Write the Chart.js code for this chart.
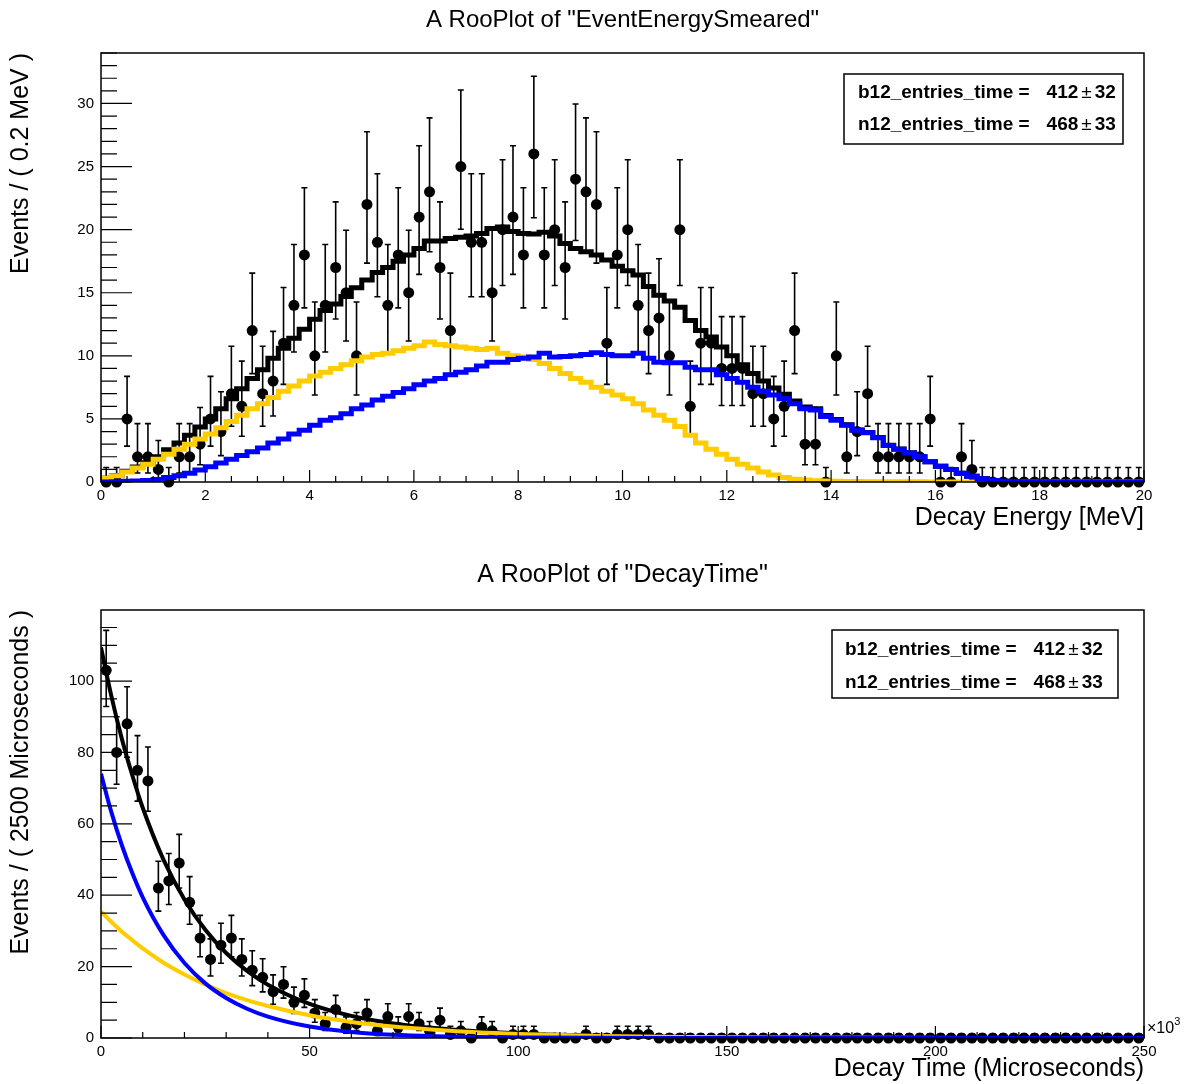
<!DOCTYPE html>
<html>
<head>
<meta charset="utf-8">
<script src="https://cdn.jsdelivr.net/npm/chart.js@4.4.1/dist/chart.umd.min.js"></script>
<style>
  body { margin: 0; background: #fff; }
  .pad { position: relative; width: 1192px; height: 542px; }
</style>
</head>
<body>
<div class="pad"><canvas id="energy" width="1192" height="542"></canvas></div>
<div class="pad"><canvas id="time" width="1192" height="542"></canvas></div>
<script>
// energy plot: 100 bins of 0.2 MeV, 0..20 MeV
const energyBinWidth = 0.2;
const energyCounts = [
  0, 0, 5, 2, 2, 1, 0, 2, 2, 3,
  5, 4, 7, 6, 12, 7, 8, 11, 14, 18,
  10, 14, 17, 15, 10, 22, 19, 14, 18, 15,
  21, 23, 17, 12, 25, 19, 19, 15, 20, 21,
  18, 26, 18, 20, 17, 24, 23, 22, 11, 18,
  20, 14, 12, 13, 10, 20, 6, 11, 11, 9,
  9, 9, 7, 7, 5, 6, 12, 3, 3, 0,
  10, 2, 4, 7, 2, 2, 2, 2, 2, 5,
  0, 0, 2, 1, 0, 0, 0, 0, 0, 0,
  0, 0, 0, 0, 0, 0, 0, 0, 0, 0
];
const energyTotal = [
  0.3, 0.52, 0.85, 1.18, 1.52, 2.0, 2.55, 3.1, 3.7, 4.35,
  5.0, 5.8, 6.6, 7.4, 8.2, 8.9, 9.8, 10.6, 11.4, 12.1,
  12.9, 13.6, 14.1, 14.7, 15.4, 16.0, 16.6, 17.0, 17.5, 18.0,
  18.5, 19.1, 19.1, 19.3, 19.4, 19.5, 19.7, 20.1, 20.2, 19.85,
  19.7, 19.65, 19.8, 19.5, 18.9, 18.5, 18.25, 18.0, 17.6, 17.1,
  16.75, 16.4, 15.5, 14.8, 14.35, 13.85, 12.8, 12.0, 11.5, 10.7,
  10.0, 9.3, 8.6, 8.0, 7.45, 6.95, 6.42, 5.95, 5.8, 5.27,
  4.95, 4.54, 4.13, 3.92, 3.52, 2.91, 2.61, 2.31, 2.01, 1.6,
  1.25, 1.0, 0.7, 0.45, 0.25, 0.12, 0.06, 0.03, 0.02, 0.01,
  0.01, 0, 0, 0, 0, 0, 0, 0, 0, 0
];
const energyB12 = [
  0.3, 0.5, 0.8, 1.1, 1.4, 1.8, 2.2, 2.6, 3.0, 3.4,
  3.8, 4.3, 4.8, 5.3, 5.8, 6.2, 6.7, 7.2, 7.6, 8.0,
  8.4, 8.7, 9.0, 9.3, 9.6, 9.9, 10.1, 10.2, 10.4, 10.6,
  10.8, 11.1, 10.9, 10.8, 10.7, 10.6, 10.5, 10.6, 10.2, 10.0,
  9.9, 9.7, 9.4, 9.0, 8.6, 8.2, 7.9, 7.5, 7.2, 6.9,
  6.6, 6.2, 5.7, 5.3, 4.9, 4.4, 3.7, 3.1, 2.6, 2.2,
  1.8, 1.4, 1.1, 0.8, 0.55, 0.35, 0.22, 0.15, 0.1, 0.07,
  0.05, 0.04, 0.03, 0.02, 0.02, 0.01, 0.01, 0.01, 0.01, 0,
  0, 0, 0, 0, 0, 0, 0, 0, 0, 0,
  0, 0, 0, 0, 0, 0, 0, 0, 0, 0
];
const energyN12 = [
  0, 0.02, 0.05, 0.08, 0.12, 0.2, 0.35, 0.5, 0.7, 0.95,
  1.2, 1.5, 1.8, 2.1, 2.4, 2.7, 3.1, 3.4, 3.8, 4.1,
  4.5, 4.9, 5.1, 5.4, 5.8, 6.1, 6.5, 6.8, 7.1, 7.4,
  7.7, 8.0, 8.2, 8.5, 8.7, 8.9, 9.2, 9.5, 9.5, 9.7,
  9.8, 9.9, 10.2, 9.9, 9.95, 10.0, 10.1, 10.25, 10.1, 10.0,
  10.0, 10.2, 9.8, 9.5, 9.45, 9.45, 9.1, 8.9, 8.9, 8.5,
  8.2, 7.9, 7.5, 7.2, 6.9, 6.6, 6.2, 5.8, 5.7, 5.2,
  4.9, 4.5, 4.1, 3.9, 3.5, 2.9, 2.6, 2.3, 2.0, 1.6,
  1.25, 1.0, 0.7, 0.45, 0.25, 0.12, 0.06, 0.03, 0.02, 0.01,
  0.01, 0, 0, 0, 0, 0, 0, 0, 0, 0
];
const energyYTicks = [0, 5, 10, 15, 20, 25, 30];

// decay time plot: 100 bins of 2500 us (axis in units of 10^3 us)
const timeBinWidth = 2.5;
const timeCounts = [
  103, 80, 88, 75, 72, 42, 44, 49, 38, 28,
  22, 26, 28, 22, 19, 17, 13, 15, 10, 12,
  7, 4, 8, 3, 4, 7, 2, 6, 3, 6,
  4, 2, 5, 1, 2, 0, 3, 2, 0, 1,
  1, 1, 0, 0, 0, 0, 1, 0, 0, 1,
  1, 1, 1, 0, 0, 0, 0, 0, 0, 0,
  0, 0, 0, 0, 0, 0, 0, 0, 0, 0,
  0, 0, 0, 0, 0, 0, 0, 0, 0, 0,
  0, 0, 0, 0, 0, 0, 0, 0, 0, 0,
  0, 0, 0, 0, 0, 0, 0, 0, 0, 0
];
const timeCurveX = [0, 2.5, 5, 7.5, 10, 15, 20, 25, 30, 35, 40, 50, 60, 70, 80, 90, 100, 120, 140, 160, 190, 220, 250];
const timeTotal = [109.4, 95.7, 83.8, 73.6, 64.5, 49.9, 38.8, 30.3, 23.8, 18.8, 14.95, 9.55, 6.2, 4.1, 2.78, 1.86, 1.28, 0.61, 0.3, 0.15, 0.05, 0.018, 0.006];
const timeB12 = [35.4, 32.5, 29.8, 27.4, 25.1, 21.1, 17.8, 15.0, 12.6, 10.6, 8.95, 6.35, 4.5, 3.2, 2.3, 1.6, 1.14, 0.57, 0.29, 0.145, 0.05, 0.018, 0.006];
const timeN12 = [74.0, 63.2, 54.0, 46.2, 39.4, 28.8, 21.0, 15.3, 11.2, 8.2, 6.0, 3.2, 1.7, 0.9, 0.48, 0.26, 0.14, 0.04, 0.01, 0.003, 0, 0, 0];
const timeYTicks = [0, 20, 40, 60, 80, 100];

// fit results shown in the parameter box
const fitNames = ["b12_entries_time", "n12_entries_time"];
const fitValues = [412, 468];
const fitErrors = [32, 33];

const FONT = "'Liberation Sans', Arial, Helvetica, sans-serif";
Chart.defaults.font.family = FONT;
Chart.defaults.color = '#000';

// central 68% poisson interval (RooHist style)
function poissonInterval(n) {
  if (n === 0) return [0, 1.148];
  const lo = n * Math.pow(1 - 1 / (9 * n) - 1 / (3 * Math.sqrt(n)), 3);
  const m = n + 1;
  const hi = m * Math.pow(1 - 1 / (9 * m) + 1 / (3 * Math.sqrt(m)), 3);
  return [lo, hi];
}

function binPoints(counts, bw) {
  return counts.map((n, i) => ({ x: (i + 0.5) * bw, y: n }));
}
function stepPoints(vals, bw) {
  const pts = vals.map((v, i) => ({ x: i * bw, y: v }));
  pts.push({ x: vals.length * bw, y: vals[vals.length - 1] });
  return pts;
}

const errorBars = {
  id: 'errorBars',
  beforeDatasetsDraw(chart) {
    const { ctx } = chart;
    const y = chart.scales.y;
    chart.data.datasets.forEach((ds, di) => {
      if (!ds.poisson) return;
      const meta = chart.getDatasetMeta(di);
      ctx.save();
      ctx.strokeStyle = '#000';
      ctx.lineWidth = 1.6;
      ctx.beginPath();
      meta.data.forEach((pt, i) => {
        const [lo, hi] = poissonInterval(ds.data[i].y);
        const yl = y.getPixelForValue(lo), yh = y.getPixelForValue(hi);
        ctx.moveTo(pt.x, yl); ctx.lineTo(pt.x, yh);
        ctx.moveTo(pt.x - 3, yh); ctx.lineTo(pt.x + 3, yh);
        ctx.moveTo(pt.x - 3, yl); ctx.lineTo(pt.x + 3, yl);
      });
      ctx.stroke();
      ctx.restore();
    });
  }
};

const rootPad = {
  id: 'rootPad',
  afterDraw(chart, args, o) {
    const { ctx, chartArea: a } = chart;
    const x = chart.scales.x, y = chart.scales.y;
    ctx.save();
    ctx.strokeStyle = '#000';
    ctx.lineWidth = 1.2;
    ctx.beginPath();
    for (let k = 0; k * o.xMinor <= x.max + 1e-9; k++) {
      const v = k * o.xMinor;
      const major = Math.abs(v / o.xMajor - Math.round(v / o.xMajor)) < 1e-6;
      const px = x.getPixelForValue(v);
      ctx.moveTo(px, a.bottom); ctx.lineTo(px, a.bottom - (major ? 12 : 6));
    }
    for (let k = 0; k * o.yMinor <= y.max + 1e-9; k++) {
      const v = k * o.yMinor;
      const major = Math.abs(v / o.yMajor - Math.round(v / o.yMajor)) < 1e-6;
      const py = y.getPixelForValue(v);
      ctx.moveTo(a.left, py); ctx.lineTo(a.left + (major ? 31 : 16), py);
    }
    ctx.stroke();
    ctx.lineWidth = 1.5;
    ctx.strokeRect(a.left, a.top, a.right - a.left, a.bottom - a.top);

    ctx.fillStyle = '#000';
    ctx.font = o.titleFont + 'px ' + FONT;
    ctx.textAlign = 'center';
    ctx.textBaseline = 'middle';
    ctx.fillText(o.title, (a.left + a.right) / 2, o.titleY);

    // parameter box
    const b = o.box;
    ctx.fillStyle = '#fff';
    ctx.fillRect(b.x, b.y, b.w, b.h);
    ctx.lineWidth = 1.5;
    ctx.strokeRect(b.x, b.y, b.w, b.h);
    ctx.fillStyle = '#000';
    ctx.textAlign = 'left';
    fitNames.forEach((name, i) => {
      let tx = b.textX;
      const ty = b.rows[i];
      ctx.font = 'bold 19px ' + FONT;
      const head = name + ' =';
      ctx.fillText(head, tx, ty);
      tx += ctx.measureText(head).width + 17;
      ctx.fillText(String(fitValues[i]), tx, ty);
      tx += ctx.measureText(String(fitValues[i])).width + 3;
      ctx.font = '19px ' + FONT;
      ctx.fillText('\u00b1', tx, ty);
      tx += ctx.measureText('\u00b1').width + 3;
      ctx.font = 'bold 19px ' + FONT;
      ctx.fillText(String(fitErrors[i]), tx, ty);
    });

    if (o.exponent) {
      ctx.font = '16px ' + FONT;
      ctx.fillText('\u00d710', a.right + 3, a.bottom - 9);
      const w = ctx.measureText('\u00d710').width;
      ctx.font = '11px ' + FONT;
      ctx.fillText('3', a.right + 3 + w, a.bottom - 16);
    }
    ctx.restore();
  }
};

function makeOptions(cfg) {
  return {
    responsive: false,
    animation: false,
    events: [],
    layout: { padding: { top: cfg.top, right: 48, bottom: 0, left: 0 } },
    plugins: {
      legend: { display: false },
      tooltip: { enabled: false },
      rootPad: cfg.pad
    },
    scales: {
      x: {
        type: 'linear', min: cfg.xMin, max: cfg.xMax,
        grid: { display: false, drawTicks: false },
        border: { display: false },
        ticks: { stepSize: cfg.xStep, padding: 5, maxRotation: 0, autoSkip: false, font: { size: 15 } },
        title: { display: true, text: cfg.xTitle, align: 'end', font: { size: 25 }, padding: { top: 0, bottom: cfg.xTitlePad } },
        afterFit(s) { s.height = cfg.xHeight; }
      },
      y: {
        type: 'linear', min: 0, max: cfg.yMax,
        grid: { display: false, drawTicks: false },
        border: { display: false },
        ticks: { padding: 7, font: { size: 15 } },
        afterBuildTicks(s) { s.ticks = cfg.yTicks.map(v => ({ value: v })); },
        title: { display: true, text: cfg.yTitle, align: 'end', font: { size: 25 }, padding: { top: 6, bottom: 0 } },
        afterFit(s) { s.width = 101; }
      }
    }
  };
}

new Chart(document.getElementById('energy'), {
  type: 'line',
  data: {
    datasets: [
      { label: 'data', data: binPoints(energyCounts, energyBinWidth), showLine: false, poisson: true,
        pointRadius: 5.5, pointBackgroundColor: '#000', pointBorderWidth: 0, clip: false, order: 4 },
      { label: 'model', data: stepPoints(energyTotal, energyBinWidth), stepped: true,
        borderColor: '#000', borderWidth: 5, pointRadius: 0, order: 3 },
      { label: 'b12', data: stepPoints(energyB12, energyBinWidth), stepped: true,
        borderColor: '#ffcc00', borderWidth: 5, pointRadius: 0, order: 2 },
      { label: 'n12', data: stepPoints(energyN12, energyBinWidth), stepped: true,
        borderColor: '#0000ff', borderWidth: 5, pointRadius: 0, order: 1 }
    ]
  },
  options: makeOptions({
    top: 53, xMin: 0, xMax: 20, xStep: 2, yMax: 34.0, yTicks: energyYTicks, xHeight: 60, xTitlePad: 9,
    xTitle: 'Decay Energy [MeV]', yTitle: 'Events / ( 0.2 MeV )',
    pad: { title: 'A RooPlot of "EventEnergySmeared"', titleFont: 24, titleY: 20, xMinor: 0.5, xMajor: 2, yMinor: 1, yMajor: 5,
           box: { x: 844, y: 74, w: 279, h: 70, textX: 858, rows: [92.5, 125] } }
  }),
  plugins: [errorBars, rootPad]
});

const timeCurve = vals => vals.map((v, i) => ({ x: timeCurveX[i], y: v }));

new Chart(document.getElementById('time'), {
  type: 'line',
  data: {
    datasets: [
      { label: 'data', data: binPoints(timeCounts, timeBinWidth), showLine: false, poisson: true,
        pointRadius: 5.5, pointBackgroundColor: '#000', pointBorderWidth: 0, clip: false, order: 4 },
      { label: 'model', data: timeCurve(timeTotal), cubicInterpolationMode: 'monotone',
        borderColor: '#000', borderWidth: 4, pointRadius: 0, order: 3 },
      { label: 'b12', data: timeCurve(timeB12), cubicInterpolationMode: 'monotone',
        borderColor: '#ffcc00', borderWidth: 4, pointRadius: 0, order: 2 },
      { label: 'n12', data: timeCurve(timeN12), cubicInterpolationMode: 'monotone',
        borderColor: '#0000ff', borderWidth: 4, pointRadius: 0, order: 1 }
    ]
  },
  options: makeOptions({
    top: 68, xMin: 0, xMax: 250, xStep: 50, yMax: 119.9, yTicks: timeYTicks, xHeight: 46, xTitlePad: 0,
    xTitle: 'Decay Time (Microseconds)', yTitle: 'Events / ( 2500 Microseconds )',
    pad: { title: 'A RooPlot of "DecayTime"', titleFont: 25, titleY: 33, xMinor: 10, xMajor: 50, yMinor: 5, yMajor: 20, exponent: true,
           box: { x: 832, y: 88, w: 286, h: 68, textX: 845, rows: [108, 141] } }
  }),
  plugins: [errorBars, rootPad]
});
</script>
</body>
</html>
